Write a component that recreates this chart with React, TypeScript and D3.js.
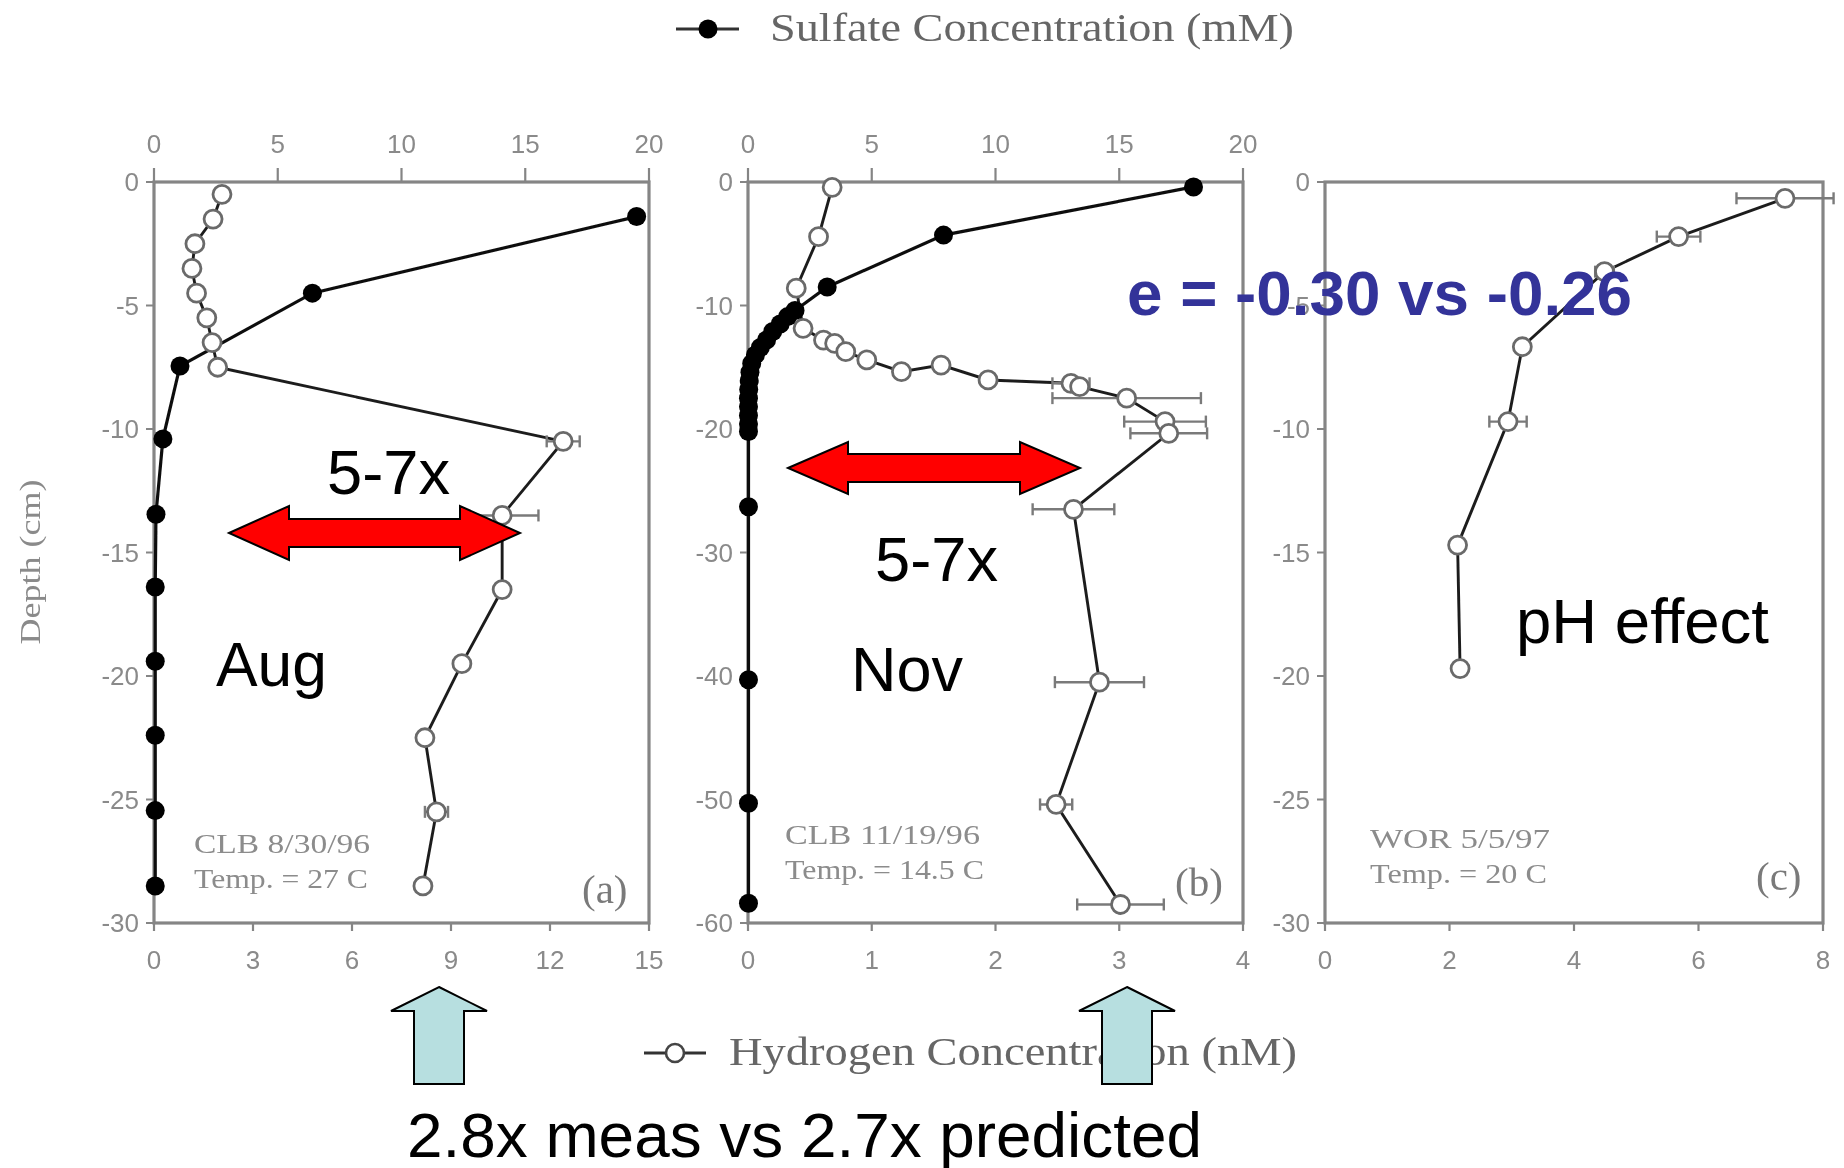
import React from 'react';
import * as d3 from 'd3';

type Pt = [number, number]; // [concentration, depth in cm]

// ---- (a) CLB 8/30/96 ----
const augSulfate: Pt[] = [
  [19.5, -1.4], [6.4, -4.5], [1.05, -7.45], [0.36, -10.4], [0.08, -13.45],
  [0.05, -16.4], [0.05, -19.4], [0.05, -22.4], [0.05, -25.45], [0.05, -28.5],
];
const augHydrogen: Pt[] = [
  [2.06, -0.5], [1.79, -1.5], [1.24, -2.5], [1.15, -3.5], [1.29, -4.5],
  [1.6, -5.5], [1.76, -6.5], [1.93, -7.5], [12.4, -10.5], [10.55, -13.5],
  [10.55, -16.5], [9.33, -19.5], [8.21, -22.5], [8.56, -25.5], [8.15, -28.5],
];
const augHydrogenErr: number[] = [0, 0, 0, 0, 0, 0, 0, 0, 0.5, 1.1, 0, 0, 0, 0.35, 0];

// ---- (b) CLB 11/19/96 ----
const novSulfate: Pt[] = [
  [18.0, -0.4], [7.9, -4.3], [3.2, -8.5], [1.9, -10.4], [1.6, -10.9],
  [1.3, -11.5], [1.0, -12.1], [0.75, -12.8], [0.5, -13.4], [0.3, -14.0],
  [0.15, -14.7], [0.08, -15.4], [0.05, -16.1], [0.03, -16.8], [0.02, -17.5],
  [0.02, -18.2], [0.02, -18.9], [0.02, -19.6], [0.02, -20.2], [0.02, -26.3],
  [0.02, -40.3], [0.02, -50.3], [0.02, -58.4],
];
const novHydrogen: Pt[] = [
  [0.68, -0.43], [0.57, -4.43], [0.39, -8.6], [0.445, -11.85], [0.61, -12.8],
  [0.7, -13.06], [0.79, -13.74], [0.96, -14.41], [1.24, -15.36], [1.56, -14.82],
  [1.94, -16.03], [2.61, -16.3], [2.68, -16.57], [3.06, -17.5], [3.37, -19.4],
  [3.4, -20.35], [2.63, -26.5], [2.84, -40.5], [2.49, -50.4], [3.01, -58.5],
];
const novHydrogenErr: number[] = [
  0, 0, 0, 0, 0, 0, 0, 0, 0, 0, 0, 0.15, 0, 0.6, 0.33, 0.31, 0.33, 0.36, 0.13, 0.35,
];

// ---- (c) WOR 5/5/97 ----
const worHydrogen: Pt[] = [
  [7.39, -0.66], [5.68, -2.21], [4.49, -3.63], [3.17, -6.67], [2.94, -9.7],
  [2.13, -14.7], [2.17, -19.7],
];
const worHydrogenErr: number[] = [0.78, 0.35, 0.15, 0, 0.3, 0, 0];

// ---- ticks ----
const sulfateTicks = [0, 5, 10, 15, 20];
const augHydrogenTicks = [0, 3, 6, 9, 12, 15];
const novHydrogenTicks = [0, 1, 2, 3, 4];
const worHydrogenTicks = [0, 2, 4, 6, 8];
const depthTicks30 = [0, -5, -10, -15, -20, -25, -30];
const depthTicks60 = [0, -10, -20, -30, -40, -50, -60];

const W = 1844;
const H = 1168;
const TOP = 182;
const BOTTOM = 923;
const AXIS = '#858585';
const SANS = '"Liberation Sans", Arial, Helvetica, sans-serif';
const SERIF = '"Liberation Serif", "Times New Roman", serif';

interface PanelProps {
  left: number;
  right: number;
  depthMin: number;
  depthTicks: number[];
  hydrogenMax: number;
  hydrogenTicks: number[];
  hydrogen: Pt[];
  hydrogenErr: number[];
  sulfate?: Pt[];
  showSulfateAxis: boolean;
  site: string;
  temp: string;
  tag: string;
  noteX: number;
  noteY: number;
  siteLen: number;
  tempLen: number;
  tagX: number;
  tagY: number;
}

function Panel(p: PanelProps) {
  const y = d3.scaleLinear().domain([0, p.depthMin]).range([TOP, BOTTOM]);
  const xh = d3.scaleLinear().domain([0, p.hydrogenMax]).range([p.left, p.right]);
  const xs = d3.scaleLinear().domain([0, 20]).range([p.left, p.right]);
  const hLine = d3.line<Pt>().x((d) => xh(d[0])).y((d) => y(d[1]));
  const sLine = d3.line<Pt>().x((d) => xs(d[0])).y((d) => y(d[1]));

  return (
    <g>
      {/* frame */}
      <rect x={p.left} y={TOP} width={p.right - p.left} height={BOTTOM - TOP}
        fill="none" stroke={AXIS} strokeWidth={3.2} />
      {/* depth axis */}
      {p.depthTicks.map((t) => (
        <g key={'d' + t}>
          <line x1={p.left - 8} x2={p.left} y1={y(t)} y2={y(t)} stroke={AXIS} strokeWidth={2} />
          <text x={p.left - 15} y={y(t)} dy="0.36em" textAnchor="end" fontFamily={SANS}
            fontSize={26} fill="#8a8a8a">{t}</text>
        </g>
      ))}
      {/* hydrogen axis (bottom) */}
      {p.hydrogenTicks.map((t) => (
        <g key={'h' + t}>
          <line x1={xh(t)} x2={xh(t)} y1={BOTTOM} y2={BOTTOM + 8} stroke={AXIS} strokeWidth={2.2} />
          <text x={xh(t)} y={969} textAnchor="middle" fontFamily={SANS} fontSize={26}
            fill="#8a8a8a">{t}</text>
        </g>
      ))}
      {/* sulfate axis (top) */}
      {p.showSulfateAxis && sulfateTicks.map((t) => (
        <g key={'s' + t}>
          <line x1={xs(t)} x2={xs(t)} y1={TOP - 14} y2={TOP} stroke={AXIS} strokeWidth={2.2} />
          <text x={xs(t)} y={153} textAnchor="middle" fontFamily={SANS} fontSize={26}
            fill="#8a8a8a">{t}</text>
        </g>
      ))}
      {/* site notes */}
      <text x={p.noteX} y={p.noteY} fontFamily={SERIF} fontSize={27} fill="#8c8c8c"
        textLength={p.siteLen} lengthAdjust="spacingAndGlyphs">{p.site}</text>
      <text x={p.noteX} y={p.noteY + 35} fontFamily={SERIF} fontSize={27} fill="#8c8c8c"
        textLength={p.tempLen} lengthAdjust="spacingAndGlyphs">{p.temp}</text>
      <text x={p.tagX} y={p.tagY} fontFamily={SERIF} fontSize={41} fill="#7a7a7a">{p.tag}</text>

      {/* series lines */}
      {p.sulfate && (
        <path d={sLine(p.sulfate) ?? ''} fill="none" stroke="#111" strokeWidth={3.2} />
      )}
      <path d={hLine(p.hydrogen) ?? ''} fill="none" stroke="#1e1e1e" strokeWidth={2.9} />
      {/* error bars */}
      {p.hydrogen.map((d, i) => {
        const e = p.hydrogenErr[i];
        if (!e) return null;
        const cy = y(d[1]);
        return (
          <g key={'e' + i} stroke="#7a7a7a" strokeWidth={2.4}>
            <line x1={xh(d[0] - e)} x2={xh(d[0] + e)} y1={cy} y2={cy} />
            <line x1={xh(d[0] - e)} x2={xh(d[0] - e)} y1={cy - 6} y2={cy + 6} />
            <line x1={xh(d[0] + e)} x2={xh(d[0] + e)} y1={cy - 6} y2={cy + 6} />
          </g>
        );
      })}
      {/* hydrogen markers */}
      {p.hydrogen.map((d, i) => (
        <circle key={'h' + i} cx={xh(d[0])} cy={y(d[1])} r={9} fill="#fff" stroke="#6a6a6a"
          strokeWidth={2.8} />
      ))}
      {/* sulfate markers */}
      {p.sulfate && p.sulfate.map((d, i) => (
        <circle key={'s' + i} cx={xs(d[0])} cy={y(d[1])} r={9.5} fill="#000" />
      ))}
    </g>
  );
}

// double-headed horizontal arrow outline
function doubleArrow(x1: number, x2: number, cy: number, head: number, hh: number, sh: number) {
  return [
    [x1, cy], [x1 + head, cy - hh], [x1 + head, cy - sh], [x2 - head, cy - sh],
    [x2 - head, cy - hh], [x2, cy], [x2 - head, cy + hh], [x2 - head, cy + sh],
    [x1 + head, cy + sh], [x1 + head, cy + hh],
  ].map((q) => q.join(',')).join(' ');
}

// upward block arrow outline
function upArrow(cx: number, tip: number, headBase: number, bottom: number, hw: number, sw: number) {
  return [
    [cx, tip], [cx + hw, headBase], [cx + sw, headBase], [cx + sw, bottom],
    [cx - sw, bottom], [cx - sw, headBase], [cx - hw, headBase],
  ].map((q) => q.join(',')).join(' ');
}

export default function App() {
  return (
    <svg width={W} height={H} viewBox={`0 0 ${W} ${H}`}
      style={{ position: 'absolute', left: 0, top: 0, background: '#fff' }}>
      <defs>
        <filter id="soft" x="-5%" y="-5%" width="110%" height="110%">
          <feGaussianBlur stdDeviation="0.6" />
        </filter>
      </defs>
      <rect width={W} height={H} fill="#fff" />

      <g filter="url(#soft)">
        {/* sulfate legend */}
        <line x1={676} x2={739} y1={29} y2={29} stroke="#333" strokeWidth={3} />
        <circle cx={708} cy={29} r={9.5} fill="#000" />
        <text x={770} y={41} fontFamily={SERIF} fontSize={40} fill="#666"
          textLength={524} lengthAdjust="spacingAndGlyphs">Sulfate Concentration (mM)</text>

        {/* depth title */}
        <text transform="translate(29,562) rotate(-90)" textAnchor="middle" dy="0.35em"
          fontFamily={SERIF} fontSize={30} fill="#8a8a8a" textLength={165}
          lengthAdjust="spacingAndGlyphs">Depth (cm)</text>

        <Panel left={154} right={649} depthMin={-30} depthTicks={depthTicks30}
          hydrogenMax={15} hydrogenTicks={augHydrogenTicks} hydrogen={augHydrogen}
          hydrogenErr={augHydrogenErr} sulfate={augSulfate} showSulfateAxis
          site="CLB 8/30/96" temp="Temp. = 27 C" tag="(a)"
          noteX={194} noteY={853} siteLen={176} tempLen={174} tagX={582} tagY={903} />
        <Panel left={748} right={1243} depthMin={-60} depthTicks={depthTicks60}
          hydrogenMax={4} hydrogenTicks={novHydrogenTicks} hydrogen={novHydrogen}
          hydrogenErr={novHydrogenErr} sulfate={novSulfate} showSulfateAxis
          site="CLB 11/19/96" temp="Temp. = 14.5 C" tag="(b)"
          noteX={785} noteY={844} siteLen={195} tempLen={199} tagX={1175} tagY={896} />
        <Panel left={1325} right={1823} depthMin={-30} depthTicks={depthTicks30}
          hydrogenMax={8} hydrogenTicks={worHydrogenTicks} hydrogen={worHydrogen}
          hydrogenErr={worHydrogenErr} showSulfateAxis={false}
          site="WOR 5/5/97" temp="Temp. = 20 C" tag="(c)"
          noteX={1370} noteY={848} siteLen={180} tempLen={177} tagX={1756} tagY={890} />

        {/* hydrogen legend */}
        <line x1={644} x2={706} y1={1053} y2={1053} stroke="#333" strokeWidth={3} />
        <circle cx={675} cy={1053} r={9} fill="#fff" stroke="#444" strokeWidth={2.6} />
        <text x={729} y={1065} fontFamily={SERIF} fontSize={40} fill="#666"
          textLength={568} lengthAdjust="spacingAndGlyphs">Hydrogen Concentration (nM)</text>
      </g>

      {/* annotations */}
      <polygon points={doubleArrow(229, 520, 533, 60, 27, 14)} fill="#ff0000" stroke="#000" strokeWidth={2} />
      <polygon points={doubleArrow(788, 1080, 468, 60, 26, 14)} fill="#ff0000" stroke="#000" strokeWidth={2} />

      <g fontFamily={SANS} fontSize={63} fill="#000">
        <text x={327} y={494} textLength={123} lengthAdjust="spacingAndGlyphs">5-7x</text>
        <text x={216} y={686} textLength={111} lengthAdjust="spacingAndGlyphs">Aug</text>
        <text x={875} y={581} textLength={123} lengthAdjust="spacingAndGlyphs">5-7x</text>
        <text x={851} y={691} textLength={112} lengthAdjust="spacingAndGlyphs">Nov</text>
        <text x={1516} y={643} textLength={253} lengthAdjust="spacingAndGlyphs">pH effect</text>
        <text x={407} y={1157} textLength={795} lengthAdjust="spacingAndGlyphs">2.8x meas vs 2.7x predicted</text>
      </g>
      <text x={1127} y={315} fontFamily={SANS} fontSize={63} fontWeight="bold" fill="#333399"
        textLength={505} lengthAdjust="spacingAndGlyphs">e = -0.30 vs -0.26</text>

      <polygon points={upArrow(439, 987, 1011, 1084, 48, 25)} fill="#b7dfe0" stroke="#000" strokeWidth={2} />
      <polygon points={upArrow(1127, 987, 1011, 1084, 48, 25)} fill="#b7dfe0" stroke="#000" strokeWidth={2} />
    </svg>
  );
}
